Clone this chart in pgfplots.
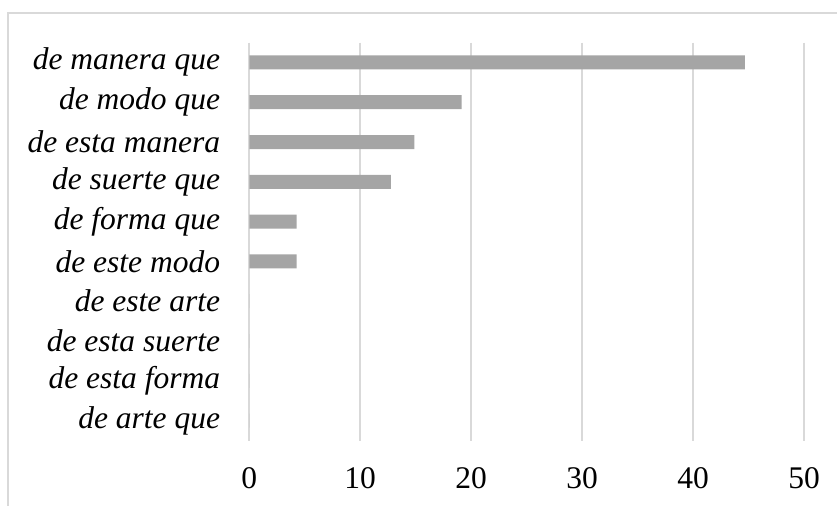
\documentclass[border=0pt]{standalone}
\usepackage{pgfplots}
\pgfplotsset{compat=1.18}
\usepackage{fontspec}
\setmainfont{Liberation Serif}
\definecolor{barg}{HTML}{A5A5A5}
\definecolor{gridg}{HTML}{D9D9D9}
\begin{document}
\begin{tikzpicture}
\begin{axis}[
  name=ax,
  at={(0,0)}, anchor=south west,
  scale only axis,
  width=554.7bp, height=398bp,
  xbar, bar width=14bp, bar shift=0pt,
  xmin=0, xmax=50,
  ymin=-0.5, ymax=9.5,
  y dir=reverse,
  xtick={0,10,20,30,40,50},
  ytick={0,1,2,3,4,5,6,7,8,9},
  yticklabels={de manera que,de modo que,de esta manera,de suerte que,de forma que,de este modo,de este arte,de esta suerte,de esta forma,de arte que},
  axis line style={draw=none},
  major tick length=0pt,
  xmajorgrids,
  grid style={draw=gridg, line width=1.8bp},
  /pgf/number format/assume math mode=true,
  tick label style={font=\fontsize{31.5bp}{36bp}\selectfont},
  yticklabel style={font=\fontsize{31.5bp}{36bp}\selectfont\itshape, inner sep=0pt, anchor=east, xshift=-29bp},
  xticklabel style={inner sep=0pt, anchor=north, yshift=-27bp},
  clip=false,
]
\addplot[fill=barg, draw=none] coordinates {
  (44.68,0) (19.15,1) (14.89,2) (12.77,3) (4.26,4) (4.26,5) (0,6) (0,7) (0,8) (0,9)
};
\end{axis}
\draw[gridg, line width=1.6bp] ([xshift=-241.3bp]ax.south west) ++(0,-200bp) -- ++(0,200bp+398bp+29.5bp) -- ++(1000bp,0);
\pgfresetboundingbox
\path[use as bounding box] (ax.south west) ++(-249.3bp,-65.5bp) rectangle ++(837bp,506bp);
\end{tikzpicture}
\end{document}
